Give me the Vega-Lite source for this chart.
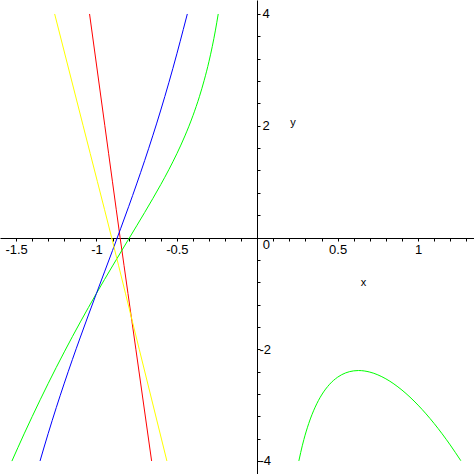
{
  "$schema": "https://vega.github.io/schema/vega-lite/v6.json",
  "width": 474,
  "height": 474,
  "padding": 0,
  "autosize": {"type": "none"},
  "background": "white",
  "config": {"view": {"stroke": null}},
  "data": {"values": [
    {"curve": "red", "branch": "red", "x": -1.043, "y": 4.0},
    {"curve": "red", "branch": "red", "x": -0.948, "y": 2.0},
    {"curve": "red", "branch": "red", "x": -0.853, "y": 0.0},
    {"curve": "red", "branch": "red", "x": -0.755, "y": -2.0},
    {"curve": "red", "branch": "red", "x": -0.657, "y": -4.0},

    {"curve": "green", "branch": "greenL", "x": -1.526, "y": -4.002},
    {"curve": "green", "branch": "greenL", "x": -1.45, "y": -3.515},
    {"curve": "green", "branch": "greenL", "x": -1.4, "y": -3.206},
    {"curve": "green", "branch": "greenL", "x": -1.3, "y": -2.611},
    {"curve": "green", "branch": "greenL", "x": -1.2, "y": -2.047},
    {"curve": "green", "branch": "greenL", "x": -1.1, "y": -1.511},
    {"curve": "green", "branch": "greenL", "x": -1.0, "y": -1.0},
    {"curve": "green", "branch": "greenL", "x": -0.9, "y": -0.509},
    {"curve": "green", "branch": "greenL", "x": -0.8, "y": -0.03},
    {"curve": "green", "branch": "greenL", "x": -0.7, "y": 0.449},
    {"curve": "green", "branch": "greenL", "x": -0.6, "y": 0.947},
    {"curve": "green", "branch": "greenL", "x": -0.55, "y": 1.213},
    {"curve": "green", "branch": "greenL", "x": -0.5, "y": 1.5},
    {"curve": "green", "branch": "greenL", "x": -0.45, "y": 1.817},
    {"curve": "green", "branch": "greenL", "x": -0.4, "y": 2.18},
    {"curve": "green", "branch": "greenL", "x": -0.36, "y": 2.519},
    {"curve": "green", "branch": "greenL", "x": -0.33, "y": 2.813},
    {"curve": "green", "branch": "greenL", "x": -0.3, "y": 3.153},
    {"curve": "green", "branch": "greenL", "x": -0.28, "y": 3.415},
    {"curve": "green", "branch": "greenL", "x": -0.26, "y": 3.711},
    {"curve": "green", "branch": "greenL", "x": -0.2428, "y": 4.0},

    {"curve": "green", "branch": "greenR", "x": 0.2587, "y": -3.999},
    {"curve": "green", "branch": "greenR", "x": 0.27, "y": -3.85},
    {"curve": "green", "branch": "greenR", "x": 0.29, "y": -3.616},
    {"curve": "green", "branch": "greenR", "x": 0.32, "y": -3.33},
    {"curve": "green", "branch": "greenR", "x": 0.36, "y": -3.037},
    {"curve": "green", "branch": "greenR", "x": 0.4, "y": -2.82},
    {"curve": "green", "branch": "greenR", "x": 0.45, "y": -2.627},
    {"curve": "green", "branch": "greenR", "x": 0.5, "y": -2.5},
    {"curve": "green", "branch": "greenR", "x": 0.55, "y": -2.423},
    {"curve": "green", "branch": "greenR", "x": 0.6, "y": -2.387},
    {"curve": "green", "branch": "greenR", "x": 0.63, "y": -2.381},
    {"curve": "green", "branch": "greenR", "x": 0.7, "y": -2.409},
    {"curve": "green", "branch": "greenR", "x": 0.8, "y": -2.53},
    {"curve": "green", "branch": "greenR", "x": 0.9, "y": -2.731},
    {"curve": "green", "branch": "greenR", "x": 1.0, "y": -3.0},
    {"curve": "green", "branch": "greenR", "x": 1.1, "y": -3.329},
    {"curve": "green", "branch": "greenR", "x": 1.2, "y": -3.713},
    {"curve": "green", "branch": "greenR", "x": 1.266, "y": -3.995},

    {"curve": "blue", "branch": "blue", "x": -1.351, "y": -4.0},
    {"curve": "blue", "branch": "blue", "x": -1.3, "y": -3.505},
    {"curve": "blue", "branch": "blue", "x": -1.25, "y": -3.045},
    {"curve": "blue", "branch": "blue", "x": -1.2, "y": -2.607},
    {"curve": "blue", "branch": "blue", "x": -1.15, "y": -2.187},
    {"curve": "blue", "branch": "blue", "x": -1.1, "y": -1.782},
    {"curve": "blue", "branch": "blue", "x": -1.05, "y": -1.387},
    {"curve": "blue", "branch": "blue", "x": -1.0, "y": -1.0},
    {"curve": "blue", "branch": "blue", "x": -0.95, "y": -0.616},
    {"curve": "blue", "branch": "blue", "x": -0.9, "y": -0.232},
    {"curve": "blue", "branch": "blue", "x": -0.85, "y": 0.156},
    {"curve": "blue", "branch": "blue", "x": -0.8, "y": 0.551},
    {"curve": "blue", "branch": "blue", "x": -0.75, "y": 0.958},
    {"curve": "blue", "branch": "blue", "x": -0.7, "y": 1.379},
    {"curve": "blue", "branch": "blue", "x": -0.65, "y": 1.819},
    {"curve": "blue", "branch": "blue", "x": -0.6, "y": 2.281},
    {"curve": "blue", "branch": "blue", "x": -0.55, "y": 2.769},
    {"curve": "blue", "branch": "blue", "x": -0.5, "y": 3.287},
    {"curve": "blue", "branch": "blue", "x": -0.46, "y": 3.724},
    {"curve": "blue", "branch": "blue", "x": -0.435, "y": 4.0},

    {"curve": "yellow", "branch": "yellow", "x": -1.260, "y": 4.0},
    {"curve": "yellow", "branch": "yellow", "x": -1.083, "y": 2.0},
    {"curve": "yellow", "branch": "yellow", "x": -0.906, "y": 0.0},
    {"curve": "yellow", "branch": "yellow", "x": -0.734, "y": -2.0},
    {"curve": "yellow", "branch": "yellow", "x": -0.562, "y": -4.0}
  ]},
  "mark": {"type": "line", "strokeWidth": 1, "interpolate": "monotone", "clip": true},
  "encoding": {
    "x": {
      "field": "x", "type": "quantitative",
      "scale": {"domain": [-1.6, 1.348], "nice": false, "zero": false},
      "axis": {
        "orient": "bottom",
        "offset": -236,
        "values": [-1.5,-1.4,-1.3,-1.2,-1.1,-1,-0.9,-0.8,-0.7,-0.6,-0.5,-0.4,-0.3,-0.2,-0.1,0,0.1,0.2,0.3,0.4,0.5,0.6,0.7,0.8,0.9,1,1.1,1.2,1.3],
        "labelExpr": "abs(datum.value*2 - round(datum.value*2)) < 1e-9 ? '' + datum.value : ''",
        "labelOverlap": false,
        "labelBound": false,
        "labelFlush": false,
        "labelFont": "Liberation Sans",
        "labelFontSize": 13,
        "labelColor": "black",
        "labelPadding": {"condition": {"test": "datum.value == 0", "value": -3}, "value": 2},
        "labelOffset": {"condition": {"test": "datum.value == 0", "value": 8.5}, "value": 0},
        "tickSize": 3,
        "tickColor": "black",
        "domainColor": "black",
        "grid": false,
        "title": "x",
        "titleFont": "Liberation Sans",
        "titleFontSize": 11,
        "titleFontWeight": "normal",
        "titleColor": "black",
        "titleX": 363,
        "titleY": 47,
        "titleAlign": "center",
        "titleBaseline": "alphabetic"
      }
    },
    "y": {
      "field": "y", "type": "quantitative",
      "scale": {"domain": [-4.233, 4.25], "nice": false, "zero": false},
      "axis": {
        "orient": "right",
        "offset": -217,
        "values": [-4,-3.6,-3.2,-2.8,-2.4,-2,-1.6,-1.2,-0.8,-0.4,0.4,0.8,1.2,1.6,2,2.4,2.8,3.2,3.6,4],
        "labelExpr": "(datum.value == 2 || datum.value == 4 || datum.value == -2 || datum.value == -4) ? '' + datum.value : ''",
        "labelOverlap": false,
        "labelBound": false,
        "labelFlush": false,
        "labelFont": "Liberation Sans",
        "labelFontSize": 13,
        "labelColor": "black",
        "labelPadding": {"condition": {"test": "datum.value < 0", "value": -1}, "value": 2},
        "tickSize": 3,
        "tickColor": "black",
        "domainColor": "black",
        "grid": false,
        "title": "y",
        "titleFont": "Liberation Sans",
        "titleFontSize": 11,
        "titleFontWeight": "normal",
        "titleColor": "black",
        "titleAngle": 0,
        "titleX": 35.5,
        "titleY": 125.5,
        "titleAlign": "center",
        "titleBaseline": "alphabetic"
      }
    },
    "color": {
      "field": "curve", "type": "nominal",
      "scale": {"domain": ["red", "green", "blue", "yellow"], "range": ["#ff0000", "#00ff00", "#0000ff", "#ffff00"]},
      "legend": null
    },
    "detail": {"field": "branch"}
  }
}
